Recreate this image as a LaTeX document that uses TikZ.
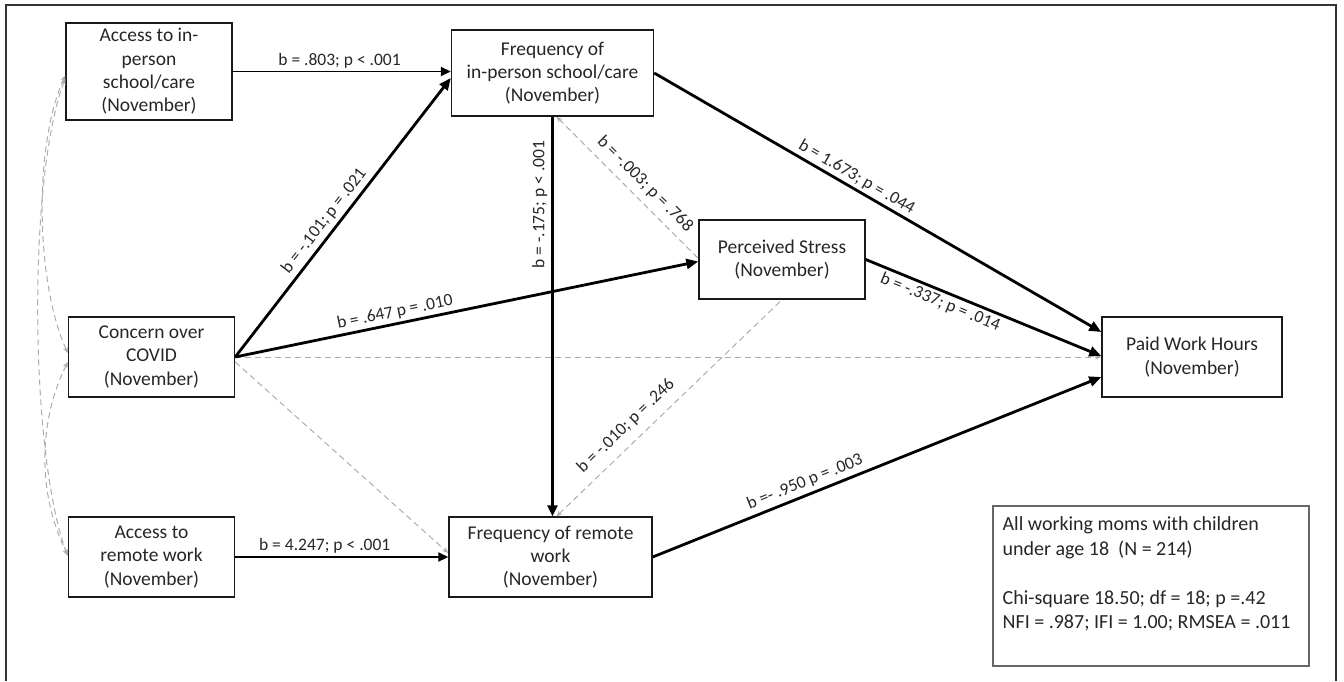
\documentclass[tikz,border=0pt]{standalone}
\usepackage{fontspec}
\setmainfont{Carlito}
\usetikzlibrary{arrows.meta,calc}
\newcommand\boxfnt{\fontsize{19.5}{23.3}\selectfont}
\newcommand\lblfnt{\fontsize{17.5}{20}\selectfont}
\newcommand\sumfnt{\fontsize{20}{24.5}\selectfont}
\begin{document}
\begin{tikzpicture}[x=1pt,y=-1pt,
  vbox/.style={draw=black!90, line width=1.4pt, align=center, inner sep=1pt, font=\boxfnt, text=black!85},
  lbl/.style={font=\lblfnt, text=black!85, inner sep=2.5pt},
  solidA/.style={draw=black, line width=1.8pt, -{Triangle[length=10pt,width=9pt]}},
  solidB/.style={draw=black, line width=2.8pt, -{Triangle[length=12pt,width=10pt]}},
  grayd/.style={draw=black!32, line width=1pt, dash pattern=on 6pt off 4pt},
  gtipE/.style={-{Stealth[length=6pt,width=5pt]}},
  gtipS/.style={{Stealth[length=6pt,width=5pt]}-},
  gtipB/.style={{Stealth[length=6pt,width=5pt]}-{Stealth[length=6pt,width=5pt]}}
]
\useasboundingbox (0,0) rectangle (1344,681);
\draw[line width=1.2pt, black!80] (6,681) -- (6,5) -- (1336,5) -- (1336,681);

% boxes
\node[vbox, minimum width=166pt, minimum height=97pt] (A) at (149,71.5) {Access to in-\\person\\school/care\\(November)};
\node[vbox, minimum width=202pt, minimum height=86pt] (F1) at (552.5,73) {Frequency of\\in-person school/care\\(November)};
\node[vbox, minimum width=166pt, minimum height=80pt] (C) at (151.5,357) {Concern over\\COVID\\(November)};
\node[vbox, minimum width=166pt, minimum height=80pt] (R) at (151.5,557) {Access to\\remote work\\(November)};
\node[vbox, minimum width=203pt, minimum height=80pt] (F2) at (550.5,557) {Frequency of remote\\work\\(November)};
\node[vbox, minimum width=166pt, minimum height=79pt] (P) at (782,259.5) {Perceived Stress\\(November)};
\node[vbox, minimum width=180pt, minimum height=80pt] (W) at (1192,357) {Paid Work Hours\\(November)};

% summary
\node[draw=black!60, line width=1.1pt, minimum width=316pt, minimum height=160pt] (S) at (1151,586) {};
\node[anchor=north west, inner sep=0pt, align=left, font=\sumfnt, text=black!85] (ST) at ([shift={(10,11)}]S.north west)
  {All working moms with children\\under age 18~ (N = 214)\\[24.5pt]Chi-square 18.50; df = 18; p =.42\\NFI = .987; IFI = 1.00; RMSEA = .011};

% covariances (left)
\draw[grayd, gtipB] ([yshift=-4pt]A.west) .. controls +(-32,70) and +(-32,-70) .. ([yshift=4pt]C.west);
\draw[grayd, gtipB] ([yshift=-7pt]A.west) .. controls +(-38,100) and +(-38,-100) .. ([yshift=1pt]R.west);
\draw[grayd, gtipB] ([yshift=-5pt]C.west) .. controls +(-30,60) and +(-30,-60) .. ([yshift=2pt]R.west);

% dashed paths
\draw[grayd, gtipE] (C.east) -- (W.west);
\draw[grayd, gtipE] ([yshift=-5pt]C.east) -- ([yshift=4pt]F2.west);
\draw[grayd, gtipS] ([xshift=4pt]F1.south) -- ([yshift=1pt]P.west)
  node[lbl, pos=.55, above, sloped, inner sep=7pt] (l5) {b = -.003; p = .768};
\draw[grayd, gtipS] ([xshift=6pt]F2.north) -- (P.south)
  node[lbl, pos=.36, above, sloped, inner sep=9pt] (l6) {b = -.010; p = .246};

% solid paths
\draw[solidA] (A.east) -- (A.east -| F1.west)
  node[lbl, pos=.49, above] (l1) {b = .803; p < .001};
\draw[solidB] (C.east) -- ([yshift=-5pt]F1.west)
  node[lbl, pos=.46, above, sloped, inner sep=4pt] (l2) {b = -.101; p = .021};
\draw[solidB] (C.east) -- ([yshift=-2pt]P.west)
  node[lbl, pos=.35, above, sloped] (l3) {b = .647 p = .010};
\draw[solidA] (R.east) -- (R.east -| F2.west)
  node[lbl, pos=.42, above] (l4) {b = 4.247; p < .001};
\draw[draw=black, line width=2.4pt, -{Triangle[length=11pt,width=10pt]}] (F1.south) -- (F1.south |- F2.north)
  node[lbl, pos=.22, rotate=90, above, inner sep=4pt] (l7) {b = -.175; p < .001};
\draw[solidB] (F1.east) -- ([yshift=25pt]W.west)
  node[lbl, pos=.44, above, sloped] (l8) {b = 1.673; p = .044};
\draw[solidB] (P.east) -- ([yshift=1pt]W.west)
  node[lbl, pos=.335, below, sloped] (l9) {b = -.337; p = .014};
\draw[solidB] (F2.east) -- ([yshift=-20pt]W.west)
  node[lbl, pos=.35, above, sloped, inner sep=4pt] (l10) {b =- .950 p = .003};
\end{tikzpicture}
\end{document}
